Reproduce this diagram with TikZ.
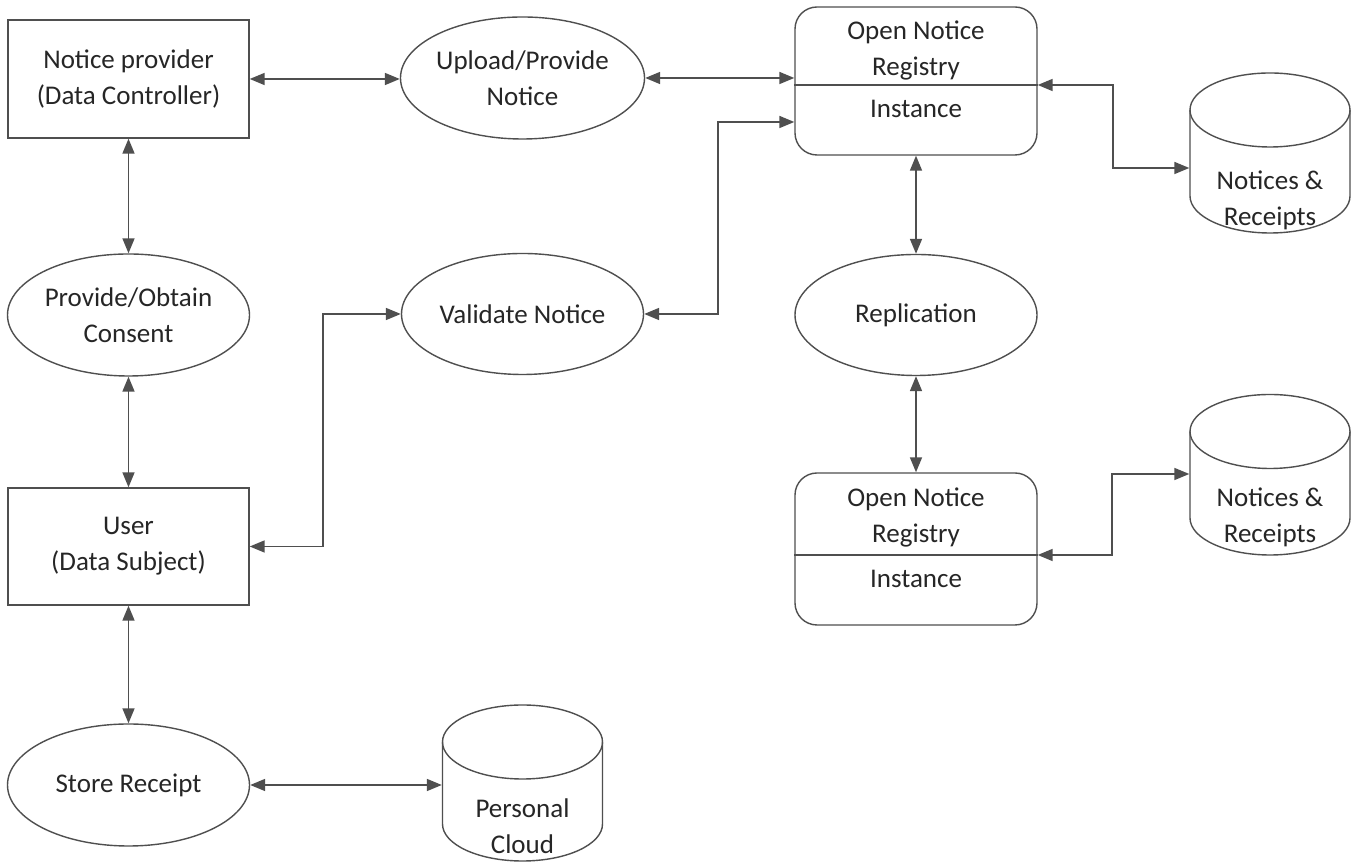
\documentclass[tikz,border=0pt]{standalone}
\usepackage{fontspec}
\setmainfont{Carlito}
\usetikzlibrary{arrows.meta,shapes.geometric,calc}
\definecolor{ln}{HTML}{4F4F4F}
\definecolor{tx}{HTML}{262626}
\begin{document}
\begin{tikzpicture}[x=1pt,y=1pt,
  every node/.style={text=tx, align=center, font=\fontsize{27}{36}\selectfont},
  box/.style={draw=ln, line width=1.4pt, minimum width=241pt, minimum height=118pt, inner sep=0},
  oval/.style={ellipse, draw=ln, line width=1.4pt, minimum width=242pt, minimum height=122pt, inner sep=0},
  regbox/.style={draw=ln, line width=1.4pt, rounded corners=22pt, minimum width=242pt, minimum height=150pt, inner sep=0},
  hold/.style={inner sep=0, minimum width=161pt, minimum height=160pt},
  shapeline/.style={draw=ln, line width=1.4pt},
  link/.style={draw=ln, line width=1.7pt, {Triangle[length=15pt,width=12pt]}-{Triangle[length=15pt,width=12pt]}}
]
\fill[white] (0,0) rectangle (1353,864);
\useasboundingbox (0,0) rectangle (1353,864);

% left column
\node[box] (np) at (128.5,785) {Notice provider\\(Data Controller)};
\node[oval] (poc) at (128.5,549) {Provide/Obtain\\Consent};
\node[box, minimum height=117pt] (user) at (128.5,317.5) {User\\(Data Subject)};
\node[oval] (sr) at (128.5,79) {Store Receipt};

% middle column
\node[oval] (up) at (522.5,786) {Upload/Provide\\Notice};
\node[oval, minimum height=121pt] (vn) at (522.5,550) {Validate Notice};

% registries
\node[regbox, minimum height=148pt] (reg1) at (916,783) {};
\node (reg1t) at (916,814) {Open Notice\\Registry};
\node (reg1b) at (916,755) {Instance};
\coordinate (r1d) at ($(reg1.east)+(0,-4)$);
\draw[shapeline] ($(reg1.west)+(0,-4)$) -- (r1d);

\node[oval, minimum height=121pt] (rep) at (916,549) {Replication};

\node[regbox, minimum height=152pt] (reg2) at (916,315) {};
\node (reg2t) at (916,347) {Open Notice\\Registry};
\node (reg2b) at (916,285) {Instance};
\coordinate (r2d) at ($(reg2.east)+(0,-6)$);
\draw[shapeline] ($(reg2.west)+(0,-6)$) -- (r2d);

% cylinders
\node[hold] (cyl1) at (1270,711) {};
\draw[shapeline] (1270,754) ellipse [x radius=80pt, y radius=37pt];
\draw[shapeline] (1190,754) -- (1190,668) arc[start angle=180, end angle=360, x radius=80pt, y radius=37pt] -- (1350,754);
\node (cyl1t) at (1270,664) {Notices \&\\Receipts};

\node[hold, minimum height=161pt] (cyl2) at (1270,389.5) {};
\draw[shapeline] (1270,432.5) ellipse [x radius=80pt, y radius=37pt];
\draw[shapeline] (1190,432.5) -- (1190,346) arc[start angle=180, end angle=360, x radius=80pt, y radius=37pt] -- (1350,432.5);
\node (cyl2t) at (1270,347) {Notices \&\\Receipts};

\node[hold, minimum height=158pt] (pc) at (522.5,81) {};
\draw[shapeline] (522.5,122) ellipse [x radius=80pt, y radius=37pt];
\draw[shapeline] (442.5,122) -- (442.5,40) arc[start angle=180, end angle=360, x radius=80pt, y radius=37pt] -- (602.5,122);
\node (pct) at (522.5,38) {Personal\\Cloud};

% connectors
\draw[link] (np.east) -- (np.east -| up.west);
\draw[link] (up.east) -- (up.east -| reg1.west);
\coordinate (vj) at (718,742);
\draw[link] (vn.east) -| (vj) -- (reg1.west |- vj);
\draw[link] (reg1.south) -- (rep.north);
\coordinate (c1j) at (1113,696);
\draw[link] (r1d) -| (c1j) -- (cyl1.west |- c1j);
\draw[link] (rep.south) -- (reg2.north);
\coordinate (c2j) at (1112,390);
\draw[link] (r2d) -| (c2j) -- (cyl2.west |- c2j);
\draw[link] (np.south) -- (poc.north);
\draw[link] (poc.south) -- (user.north);
\coordinate (uj) at (323,550);
\draw[link] (user.east) -| (uj) -- (vn.west);
\draw[link] (user.south) -- (sr.north);
\draw[link] (sr.east) -- (sr.east -| pc.west);
\end{tikzpicture}
\end{document}
